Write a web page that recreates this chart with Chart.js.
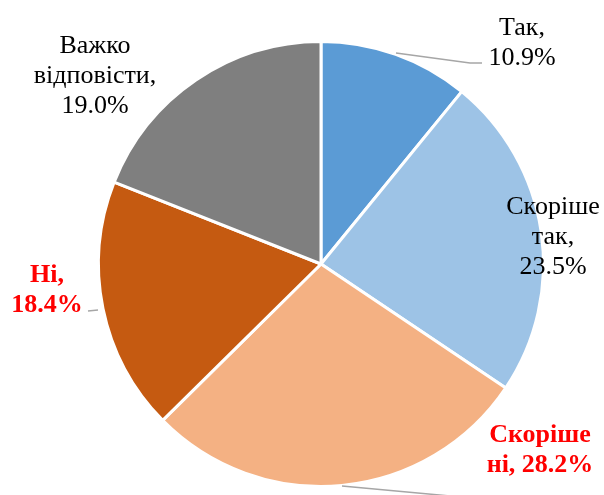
<!DOCTYPE html>
<html>
<head>
<meta charset="utf-8">
<script src="https://cdn.jsdelivr.net/npm/chart.js@4"></script>
<style>
  html, body { margin: 0; padding: 0; background: #fff; }
  #wrap { width: 604px; height: 495px; }
</style>
</head>
<body>
<div id="wrap"><canvas id="pieChart"></canvas></div>
<script>
// Data
var categories = ['Так', 'Скоріше так', 'Скоріше ні', 'Ні', 'Важко відповісти'];
var shares = [10.9, 23.5, 28.2, 18.4, 19.0];
var colors = ['#5B9BD5', '#9DC3E6', '#F4B183', '#C55A11', '#7F7F7F'];
var labelLines = [
  ['Так,', '10.9%'],
  ['Скоріше', 'так,', '23.5%'],
  ['Скоріше', 'ні, 28.2%'],
  ['Ні,', '18.4%'],
  ['Важко', 'відповісти,', '19.0%']
];
var highlighted = [false, false, true, true, false];

// label placement relative to pie centre (px), and leader lines
var labelPos = [[201, -229], [232, -50], [219, 178], [-274, 18], [-226, -211]];
var leaders = {
  0: [[75, -211], [149, -201], [161, -201]],
  2: [[21, 222], [140, 233]],
  3: [[-233, 47], [-223, 46]]
};

var pieLabels = {
  id: 'pieLabels',
  afterDatasetsDraw: function (chart) {
    var ctx = chart.ctx;
    var arcs = chart.getDatasetMeta(0).data;
    var cx = arcs[0].x, cy = arcs[0].y;
    ctx.save();
    ctx.strokeStyle = '#A6A6A6';
    ctx.lineWidth = 1.5;
    Object.keys(leaders).forEach(function (k) {
      var pts = leaders[k];
      ctx.beginPath();
      ctx.moveTo(cx + pts[0][0], cy + pts[0][1]);
      for (var j = 1; j < pts.length; j++) ctx.lineTo(cx + pts[j][0], cy + pts[j][1]);
      ctx.stroke();
    });
    ctx.textAlign = 'center';
    ctx.textBaseline = 'alphabetic';
    labelLines.forEach(function (lines, i) {
      ctx.font = (highlighted[i] ? 'bold ' : '') + '26px "Liberation Serif", "Times New Roman", serif';
      ctx.fillStyle = highlighted[i] ? '#FF0000' : '#000000';
      lines.forEach(function (t, j) {
        ctx.fillText(t, cx + labelPos[i][0], cy + labelPos[i][1] + j * 30);
      });
    });
    ctx.restore();
  }
};

var pieCtx = document.getElementById('pieChart').getContext('2d');
var pieChart = new Chart(pieCtx, {
  type: 'pie',
  data: {
    labels: categories,
    datasets: [{
      data: shares,
      backgroundColor: colors,
      borderColor: '#FFFFFF',
      borderWidth: 3
    }]
  },
  options: {
    responsive: true,
    maintainAspectRatio: false,
    animation: false,
    layout: { padding: { left: 97, right: 59, top: 40, bottom: 7 } },
    plugins: { legend: { display: false }, tooltip: { enabled: false } }
  },
  plugins: [pieLabels]
});
</script>
</body>
</html>
